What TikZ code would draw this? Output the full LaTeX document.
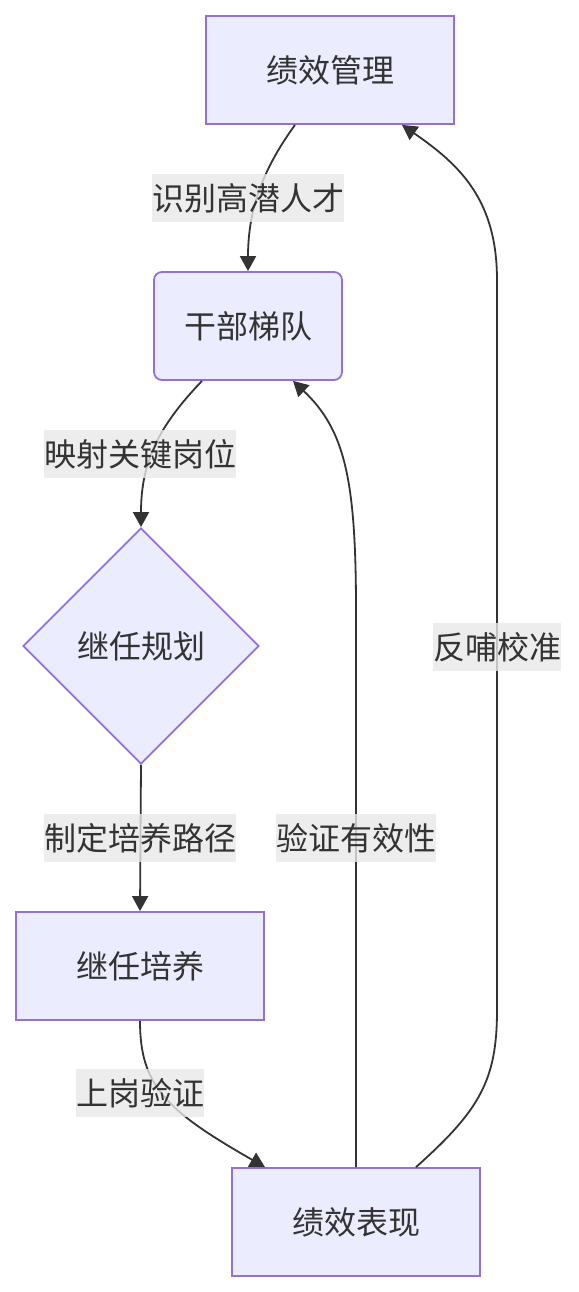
\documentclass[tikz,border=0pt]{standalone}
\usepackage{fontspec}
\setmainfont{Noto Sans CJK SC}
\usetikzlibrary{shapes.geometric,arrows.meta}
\definecolor{nodefill}{HTML}{ECECFF}
\definecolor{nodedraw}{HTML}{9370DB}
\definecolor{txt}{HTML}{333333}
\definecolor{lbl}{HTML}{E8E8E8}
\begin{document}
\begin{tikzpicture}[x=1pt,y=-1pt,
  base/.style={draw=nodedraw, fill=nodefill, line width=1.8pt, inner sep=0pt, text=txt, font=\fontsize{32}{38}\selectfont},
  box/.style={base, rectangle, minimum width=248pt, minimum height=108pt},
  rbox/.style={base, rectangle, rounded corners=8pt, minimum width=188pt, minimum height=108pt},
  dia/.style={base, diamond, shape aspect=1, minimum width=236pt, minimum height=236pt},
  lab/.style={fill=lbl, fill opacity=0.8, text opacity=1, text=txt, inner xsep=0pt, inner ysep=0pt, minimum height=48pt, font=\fontsize{32}{38}\selectfont},
  edge/.style={draw=txt, line width=1.8pt, -{Triangle[length=15pt,width=16pt]}}
]
\useasboundingbox (0,0) rectangle (578,1292);
\node[box]  (a) at (330,70)   {绩效管理};
\node[rbox] (b) at (248,326)  {干部梯队};
\node[dia]  (c) at (141,646)  {继任规划};
\node[box]  (d) at (140,966)  {继任培养};
\node[box]  (e) at (356,1222) {绩效表现};

\draw[edge] ([xshift=-35pt]a.south) .. controls (266,165) and (248,205) .. (b.north);
\draw[edge] ([xshift=-46pt]b.south) .. controls (160,425) and (141,460) .. (c.north);
\draw[edge] (c.south) -- (d.north);
\draw[edge] (d.south) .. controls (140,1085) and (165,1110) .. ([xshift=-91pt]e.north);
\draw[edge] (e.north) -- (356,610) .. controls (356,480) and (345,430) .. ([xshift=-63pt]e.north |- b.south);
\draw[edge] ([xshift=60pt]e.north) .. controls (480,1110) and (497,1080) .. (497,1010) -- (497,280) .. controls (497,200) and (460,165) .. ([xshift=72pt]a.south);

\node[lab] (l1) at (248,198)  {识别高潜人才};
\node[lab] (l2) at (140,454)  {映射关键岗位};
\node[lab] (l3) at (140,838)  {制定培养路径};
\node[lab] (l4) at (140,1093) {上岗验证};
\node[lab] (l5) at (356,838)  {验证有效性};
\node[lab] (l6) at (497,647)  {反哺校准};
\end{tikzpicture}
\end{document}
